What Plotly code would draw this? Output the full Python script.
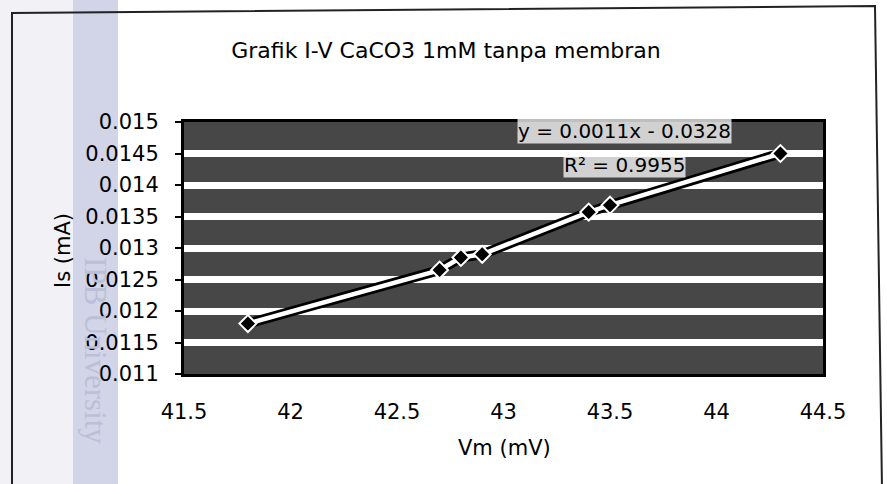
import plotly.graph_objects as go

# Measured membrane potential (mV) and current (mA)
vm = [41.8, 42.7, 42.8, 42.9, 43.4, 43.5, 44.3]
is_ma = [0.0118, 0.01265, 0.01285, 0.0129, 0.01357, 0.01368, 0.0145]

x_ticks = [41.5, 42, 42.5, 43, 43.5, 44, 44.5]
x_ticktext = ["41.5", "42", "42.5", "43", "43.5", "44", "44.5"]
y_ticks = [0.011, 0.0115, 0.012, 0.0125, 0.013, 0.0135, 0.014, 0.0145, 0.015]
y_ticktext = ["0.011", "0.0115", "0.012", "0.0125", "0.013", "0.0135", "0.014", "0.0145", "0.015"]

title_text = "Grafik I-V CaCO3 1mM tanpa membran"
eq_text = "y = 0.0011x - 0.0328"
r2_text = "R² = 0.9955"

W, H = 887, 484
ML, MR, MT, MB = 184, 64, 122, 110
PW, PH = W - ML - MR, H - MT - MB


def px(x):
    return (x - ML) / PW


def py(y):
    return (H - MB - y) / PH


FONT = "DejaVu Sans"

fig = go.Figure()
# dark outline under the series line
fig.add_trace(go.Scatter(x=vm, y=is_ma, mode="lines",
                         line=dict(color="black", width=10),
                         hoverinfo="skip", showlegend=False))
fig.add_trace(go.Scatter(x=vm, y=is_ma, mode="lines+markers",
                         line=dict(color="white", width=4.5),
                         marker=dict(symbol="diamond", size=13, color="black",
                                     line=dict(color="white", width=2)),
                         showlegend=False))

shapes = []
# left page strip and band
shapes.append(dict(type="rect", xref="paper", yref="paper",
                   x0=px(0), x1=px(73), y0=py(H), y1=py(0),
                   fillcolor="#f1f1f6", line=dict(width=0), layer="below"))
shapes.append(dict(type="rect", xref="paper", yref="paper",
                   x0=px(73), x1=px(118), y0=py(H), y1=py(0),
                   fillcolor="#d2d4e8", line=dict(width=0), layer="below"))
# outer chart frame
shapes.append(dict(type="path", xref="paper", yref="paper",
                   path=f"M {px(12)},{py(H + 5)} L {px(12)},{py(13)} L {px(875)},{py(6)} L {px(882)},{py(H + 5)}",
                   line=dict(color="#222222", width=2), layer="above"))
# dark centre lines of the horizontal gridlines
for v in y_ticks[1:-1]:
    shapes.append(dict(type="line", xref="paper", yref="y", x0=0, x1=1, y0=v, y1=v,
                       line=dict(color="black", width=2.5), layer="between"))


def label(text, cx, cy, size, **kw):
    return dict(text=text, x=px(cx), y=py(cy), xref="paper", yref="paper",
                xanchor="center", yanchor="middle", showarrow=False,
                font=dict(family=kw.pop("family", FONT), size=size,
                          color=kw.pop("color", "black")), **kw)


annotations = [
    label("IPB University", 96, 350, 31, textangle=90,
          family="Liberation Serif", color="#bcbfd8"),
    label(eq_text, 624, 131, 20, bgcolor="rgba(255,255,255,0.75)", borderpad=0),
    label(r2_text, 624, 165, 20, bgcolor="rgba(255,255,255,0.75)", borderpad=0),
    label("Vm (mV)", 504, 448, 21),
    label("Is (mA)", 63, 250, 21, textangle=-90),
]

fig.update_layout(
    width=W, height=H,
    margin=dict(l=ML, r=MR, t=MT, b=MB),
    paper_bgcolor="white",
    plot_bgcolor="#474747",
    font=dict(family=FONT, size=21, color="black"),
    title=dict(text=title_text, x=446 / W, xanchor="center",
               y=1 - 50 / H, yanchor="middle",
               font=dict(family=FONT, size=22, color="black")),
    shapes=shapes,
    annotations=annotations,
    xaxis=dict(range=[41.5, 44.5], tickvals=x_ticks, ticktext=x_ticktext,
               showgrid=False, zeroline=False, ticks="",
               showline=True, linecolor="black", linewidth=3, mirror=True,
               ticklabelstandoff=17, tickfont=dict(family=FONT, size=21)),
    yaxis=dict(range=[0.011, 0.015], tickvals=y_ticks, ticktext=y_ticktext,
               showgrid=True, gridcolor="white", gridwidth=7, zeroline=False,
               ticks="outside", ticklen=6, tickwidth=2, tickcolor="black",
               showline=True, linecolor="black", linewidth=3, mirror=True,
               ticklabelstandoff=12, tickfont=dict(family=FONT, size=21)),
)

fig.write_html("out.html")
